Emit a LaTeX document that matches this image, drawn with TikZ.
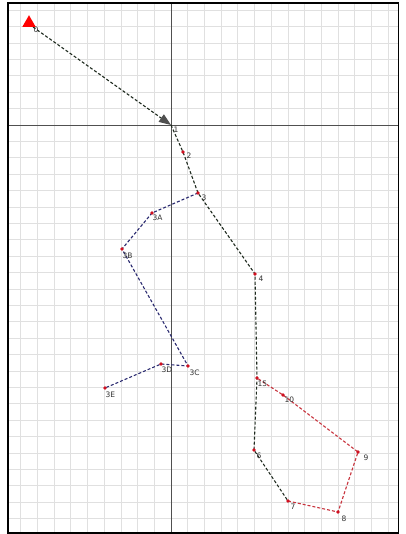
\documentclass[tikz,border=0pt]{standalone}
\usepackage{fontspec}
\setsansfont{DejaVu Sans}
\usetikzlibrary{arrows.meta,shapes.geometric}
\definecolor{gridc}{HTML}{E0E0E0}
\definecolor{axisc}{HTML}{505050}
\definecolor{mainc}{HTML}{1E2A1E}
\definecolor{bluec}{HTML}{2A2A70}
\definecolor{redc}{HTML}{C8323C}
\definecolor{dotc}{HTML}{D01020}
\definecolor{labc}{HTML}{333333}
\tikzset{
  gridline/.style={draw=gridc, line width=0.8pt},
  axisline/.style={draw=axisc, line width=0.8pt},
  mainpath/.style={draw=mainc, line width=1.1pt, dash pattern=on 3pt off 2pt},
  bluepath/.style={draw=bluec, line width=1.1pt, dash pattern=on 3pt off 2pt},
  redpath/.style={draw=redc, line width=1.1pt, dash pattern=on 3pt off 2pt},
  ptdot/.style={fill=dotc, draw=none},
  ptlab/.style={anchor=west, inner sep=0.3pt, text=labc, font=\sffamily\fontsize{7.5}{8}\selectfont}
}
\begin{document}
\begin{tikzpicture}[x=1pt,y=-1pt]
\useasboundingbox (0,0) rectangle (405,534);
\fill[white] (0,0) rectangle (405,534);
% grid
\foreach \k in {-9,...,13} { \draw[gridline] ({171+16.7*\k},3) -- ({171+16.7*\k},533); }
\foreach \k in {-7,...,24} { \draw[gridline] (8,{125+16.4*\k}) -- (398,{125+16.4*\k}); }
% axes
\draw[axisline] (171,3) -- (171,533);
\draw[axisline] (8,125) -- (398,125);
% frame
\draw[black, line width=1.6pt] (8,3) rectangle (398.5,533);
% points
\coordinate (p0) at (33,27);
\coordinate (p1) at (171,125);
\coordinate (p2) at (183,152);
\coordinate (p3) at (198,193);
\coordinate (p3A) at (152,213);
\coordinate (p3B) at (122,249);
\coordinate (p3C) at (188,366);
\coordinate (p3D) at (161,364);
\coordinate (p3E) at (105,388);
\coordinate (p4) at (255,274);
\coordinate (p5) at (257,378);
\coordinate (p6) at (254,450);
\coordinate (p7) at (288,501);
\coordinate (p8) at (338,512);
\coordinate (p9) at (358,452);
\coordinate (p10) at (283,395);
% paths
\draw[mainpath, -{Triangle[length=12pt,width=9pt,fill=axisc,color=axisc]}] (p0) -- (p1);
\draw[mainpath] (p1) -- (p2) -- (p3) -- (p4) -- (p5) -- (p6) -- (p7);
\draw[bluepath] (p3) -- (p3A) -- (p3B) -- (p3C) -- (p3D) -- (p3E);
\draw[redpath] (p7) -- (p8) -- (p9) -- (p10) -- (p5);
% dots
\foreach \p in {p2,p3,p3A,p3B,p3C,p3D,p3E,p4,p5,p6,p7,p8,p9,p10} { \fill[ptdot] (\p) circle (1.8pt); }
% labels
\node[ptlab] (l0) at ([shift={(0,3)}]p0) {0};
\node[ptlab] (l1) at ([shift={(2,5)}]p1) {1};
\node[ptlab] (l2) at ([shift={(3,4)}]p2) {2};
\node[ptlab] (l3) at ([shift={(3,5)}]p3) {3};
\node[ptlab] (l3A) at ([shift={(0,5)}]p3A) {3A};
\node[ptlab] (l3B) at ([shift={(0,7)}]p3B) {3B};
\node[ptlab] (l3C) at ([shift={(1,7)}]p3C) {3C};
\node[ptlab] (l3D) at ([shift={(0,6)}]p3D) {3D};
\node[ptlab] (l3E) at ([shift={(0,7)}]p3E) {3E};
\node[ptlab] (l4) at ([shift={(3,5)}]p4) {4};
\node[ptlab] (l5) at ([shift={(0,6)}]p5) {15};
\node[ptlab] (l6) at ([shift={(2,6)}]p6) {6};
\node[ptlab] (l7) at ([shift={(2,6)}]p7) {7};
\node[ptlab] (l8) at ([shift={(3,7)}]p8) {8};
\node[ptlab] (l9) at ([shift={(5,6)}]p9) {9};
\node[ptlab] (l10) at ([shift={(1,5)}]p10) {10};
% start marker
\node[regular polygon, regular polygon sides=3, fill=red, draw=none, minimum size=15.5pt, inner sep=0pt] (start) at (29,23) {};
\end{tikzpicture}
\end{document}
